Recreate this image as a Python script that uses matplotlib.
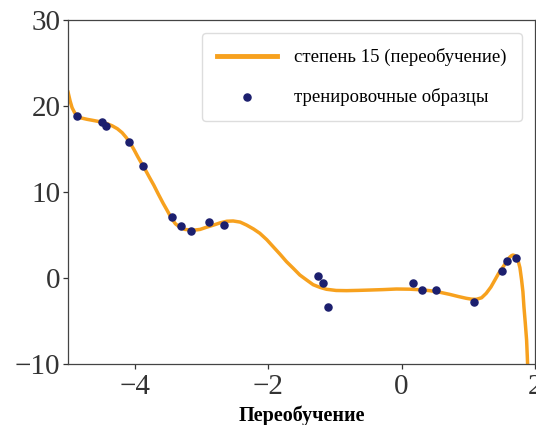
import matplotlib
matplotlib.use('Agg')
import matplotlib.pyplot as plt

plt.rcParams['font.family'] = ['Liberation Serif', 'DejaVu Serif']

# training samples
sample_x = [-4.87, -4.49, -4.43, -4.09, -3.88, -3.445, -3.30, -3.16, -2.89, -2.665,
            -1.255, -1.18, -1.10, 0.17, 0.30, 0.51, 1.08, 1.50, 1.58, 1.71]
sample_y = [18.84, 18.14, 17.67, 15.81, 13.02, 7.09, 6.05, 5.47, 6.51, 6.16,
            0.23, -0.58, -3.37, -0.58, -1.40, -1.40, -2.79, 0.81, 1.98, 2.33]

# degree-15 fit curve
curve_x = [-5.0, -4.97, -4.94, -4.90, -4.865, -4.80, -4.715, -4.61, -4.51, -4.42, -4.34,
           -4.26, -4.19, -4.13, -4.065, -4.01, -3.955, -3.90, -3.84, -3.78, -3.715,
           -3.65, -3.575, -3.51, -3.45, -3.39, -3.325, -3.25, -3.125, -3.02, -2.925,
           -2.82, -2.725, -2.62, -2.525, -2.42, -2.325, -2.22, -2.125, -2.02, -1.925,
           -1.82, -1.725, -1.62, -1.525, -1.42, -1.325, -1.22, -1.125, -0.98, -0.825,
           -0.65, -0.477, -0.28, -0.077, 0.12, 0.27, 0.42, 0.57, 0.72, 0.85,
           0.97, 1.05, 1.12, 1.20, 1.27, 1.34, 1.40, 1.46, 1.525, 1.58,
           1.62, 1.65, 1.67, 1.70, 1.725, 1.745, 1.775, 1.80, 1.82, 1.835,
           1.855, 1.875, 1.885, 1.895]
curve_y = [21.6, 20.6, 19.8, 19.2, 18.9, 18.6, 18.45, 18.3, 18.15, 17.95, 17.7,
           17.35, 16.9, 16.35, 15.65, 14.9, 14.1, 13.35, 12.56, 11.7, 10.8,
           9.8, 8.69, 7.8, 6.94, 6.3, 5.9, 5.65, 5.55, 5.65, 5.9,
           6.15, 6.4, 6.6, 6.63, 6.5, 6.16, 5.7, 5.2, 4.45, 3.64,
           2.75, 1.9, 1.1, 0.35, -0.25, -0.78, -1.1, -1.31, -1.45, -1.47,
           -1.44, -1.40, -1.35, -1.28, -1.30, -1.36, -1.47, -1.65, -1.9, -2.15,
           -2.36, -2.46, -2.48, -2.30, -1.78, -1.05, -0.23, 0.60, 1.31, 2.0,
           2.40, 2.60, 2.67, 2.60, 2.35, 2.09, 1.2, -0.23, -1.6, -3.34,
           -5.2, -7.2, -9.0, -11.0]

fig = plt.figure(figsize=(5.36, 4.25), dpi=100)
ax = fig.add_axes([0.127, 0.1435, 0.871, 0.8095])

ax.plot(curve_x, curve_y, color='#f7a11e', lw=2.5, solid_joinstyle='round',
        label='степень 15 (переобучение)')
ax.scatter(sample_x, sample_y, color='#1c1f6e', s=26, zorder=3, label='тренировочные образцы')

ax.set_xlim(-5, 2)
ax.set_ylim(-10, 30)
ax.set_xticks([-4, -2, 0, 2])
ax.set_yticks([-10, 0, 10, 20, 30])
ax.tick_params(labelsize=21, length=3.5, width=0.9, pad=2, colors='#333333')
ax.tick_params(axis='x', pad=4)
for s in ax.spines.values():
    s.set_color('#444444')
    s.set_linewidth(0.9)

ax.set_xlabel('Переобучение', fontsize=14.5, fontweight='bold', labelpad=4)

leg = ax.legend(loc='upper right', fontsize=13.5, labelspacing=1.15, borderpad=0.8,
                handlelength=3.2, handletextpad=0.9, borderaxespad=0.7,
                scatterpoints=1, fancybox=True, framealpha=1)
leg.get_frame().set_edgecolor('#dddddd')
for line in leg.get_lines():
    line.set_linewidth(3.5)

fig.savefig('out.png', dpi=100)
